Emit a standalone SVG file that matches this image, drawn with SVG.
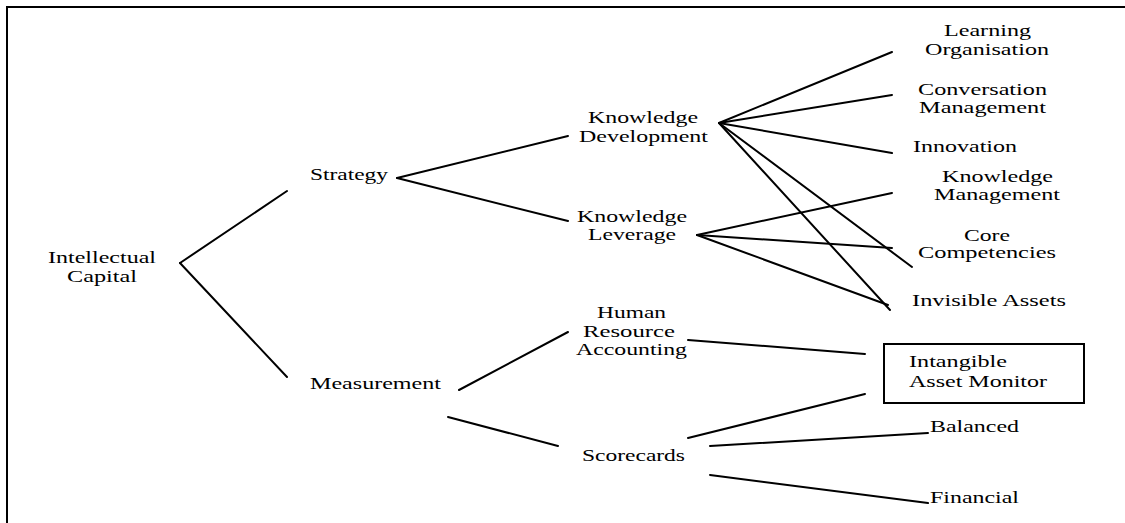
<svg xmlns="http://www.w3.org/2000/svg" width="1125" height="523" viewBox="0 0 1125 523">
<style>
text{font-family:"Liberation Serif","Times New Roman",serif;font-size:17px;fill:#000}
.c line{stroke:#000;stroke-width:2;stroke-linecap:round}
.frame{fill:none;stroke:#000;stroke-width:2}
.box{fill:none;stroke:#000;stroke-width:2}
</style>
<rect x="0" y="0" width="1125" height="523" fill="#fff"/>
<rect class="frame" x="7" y="7" width="1130" height="530"/>
<g id="connectors" class="c">
<line x1="180" y1="263" x2="287" y2="191"/>
<line x1="180" y1="263" x2="287" y2="377"/>
<line x1="397" y1="178" x2="568" y2="136"/>
<line x1="397" y1="178" x2="568" y2="221"/>
<line x1="719" y1="123" x2="892" y2="52"/>
<line x1="719" y1="123" x2="892" y2="95"/>
<line x1="719" y1="123" x2="892" y2="153"/>
<line x1="719" y1="123" x2="912" y2="267"/>
<line x1="719" y1="123" x2="890" y2="310"/>
<line x1="697" y1="235" x2="892" y2="193"/>
<line x1="697" y1="235" x2="892" y2="248"/>
<line x1="697" y1="235" x2="888" y2="305"/>
<line x1="459" y1="390" x2="568" y2="332"/>
<line x1="448" y1="417" x2="558" y2="446"/>
<line x1="688" y1="340" x2="865" y2="354"/>
<line x1="688" y1="438" x2="865" y2="394"/>
<line x1="710" y1="446" x2="928" y2="433"/>
<line x1="710" y1="475" x2="928" y2="503"/>
</g>
<g id="intellectual-capital">
<text x="48" y="263" textLength="108" lengthAdjust="spacingAndGlyphs">Intellectual</text>
<text x="67" y="282" textLength="70" lengthAdjust="spacingAndGlyphs">Capital</text>
</g>
<g id="strategy">
<text x="310" y="180" textLength="78" lengthAdjust="spacingAndGlyphs">Strategy</text>
</g>
<g id="measurement">
<text x="310" y="389" textLength="131" lengthAdjust="spacingAndGlyphs">Measurement</text>
</g>
<g id="knowledge-development">
<text x="588" y="123" textLength="110" lengthAdjust="spacingAndGlyphs">Knowledge</text>
<text x="579" y="142" textLength="129" lengthAdjust="spacingAndGlyphs">Development</text>
</g>
<g id="knowledge-leverage">
<text x="577" y="222" textLength="110" lengthAdjust="spacingAndGlyphs">Knowledge</text>
<text x="588" y="240" textLength="88" lengthAdjust="spacingAndGlyphs">Leverage</text>
</g>
<g id="learning-organisation">
<text x="944" y="36" textLength="87" lengthAdjust="spacingAndGlyphs">Learning</text>
<text x="925" y="55" textLength="124" lengthAdjust="spacingAndGlyphs">Organisation</text>
</g>
<g id="conversation-management">
<text x="918" y="95" textLength="129" lengthAdjust="spacingAndGlyphs">Conversation</text>
<text x="919" y="113" textLength="127" lengthAdjust="spacingAndGlyphs">Management</text>
</g>
<g id="innovation">
<text x="913" y="152" textLength="104" lengthAdjust="spacingAndGlyphs">Innovation</text>
</g>
<g id="knowledge-management">
<text x="942" y="182" textLength="111" lengthAdjust="spacingAndGlyphs">Knowledge</text>
<text x="934" y="200" textLength="126" lengthAdjust="spacingAndGlyphs">Management</text>
</g>
<g id="core-competencies">
<text x="964" y="241" textLength="46" lengthAdjust="spacingAndGlyphs">Core</text>
<text x="918" y="258" textLength="138" lengthAdjust="spacingAndGlyphs">Competencies</text>
</g>
<g id="invisible-assets">
<text x="912" y="306" textLength="154" lengthAdjust="spacingAndGlyphs">Invisible Assets</text>
</g>
<g id="human-resource-accounting">
<text x="597" y="318" textLength="69" lengthAdjust="spacingAndGlyphs">Human</text>
<text x="583" y="337" textLength="92" lengthAdjust="spacingAndGlyphs">Resource</text>
<text x="576" y="355" textLength="111" lengthAdjust="spacingAndGlyphs">Accounting</text>
</g>
<g id="intangible-asset-monitor">
<rect class="box" x="884" y="344" width="200" height="59"/>
<text x="909" y="367" textLength="98" lengthAdjust="spacingAndGlyphs">Intangible</text>
<text x="909" y="387" textLength="138" lengthAdjust="spacingAndGlyphs">Asset Monitor</text>
</g>
<g id="scorecards">
<text x="582" y="461" textLength="103" lengthAdjust="spacingAndGlyphs">Scorecards</text>
</g>
<g id="balanced">
<text x="930" y="432" textLength="89" lengthAdjust="spacingAndGlyphs">Balanced</text>
</g>
<g id="financial">
<text x="930" y="503" textLength="89" lengthAdjust="spacingAndGlyphs">Financial</text>
</g>
</svg>
